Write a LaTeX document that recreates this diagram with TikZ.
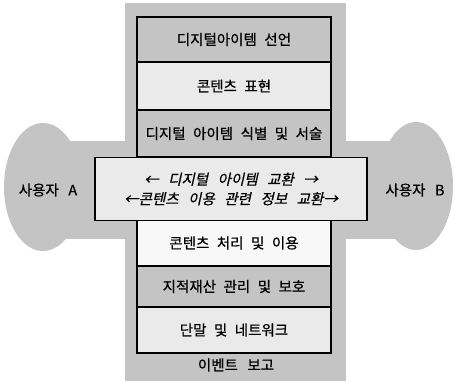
\documentclass[tikz,border=0pt]{standalone}
\usepackage{fontspec}
\setmainfont{Noto Sans CJK KR}
\newfontfamily\kr[FakeBold=0.6]{Noto Sans CJK KR}
\newfontfamily\krit[FakeSlant=0.22,FakeBold=0.6]{Noto Sans CJK KR}
\newcommand\gap{\hspace{7.5pt}}
\newcommand\wgap{\hspace{9.5pt}}
\definecolor{bgray}{HTML}{C4C4C4}
\definecolor{lgray}{HTML}{EAEAEA}
\definecolor{wgray}{HTML}{F8F8F8}
\begin{document}
\begin{tikzpicture}[x=1pt,y=-1pt,
  shade/.style={fill=bgray,draw=none},
  layer/.style={draw=black,line width=1.3pt,minimum width=194pt,inner sep=0pt,
    font=\kr\fontsize{14.5}{16}\selectfont,text=black},
  lab/.style={font=\kr\fontsize{14.5}{16}\selectfont,text=black,inner sep=0pt}]
\useasboundingbox (0,0) rectangle (455,381);
\fill[white] (0,0) rectangle (455,381);
% gray cross / cloud background
\fill[shade] (125,3) rectangle (346,381);
\fill[shade] (60,141) rectangle (126,239);
\fill[shade] (345,141) rectangle (400,239);
\fill[shade] (43,187) ellipse [x radius=39pt, y radius=64pt];
\fill[shade] (416,186) ellipse [x radius=37pt, y radius=64pt];
% layers
\node[layer,fill=bgray,minimum height=45pt] (b1) at (234,39.5) {디지털아이템\gap 선언};
\node[layer,fill=lgray,minimum height=48pt] (b2) at (234,86) {콘텐츠\gap 표현};
\node[layer,fill=bgray,minimum height=47pt] (b3) at (234,133.5) {디지털\gap 아이템\gap 식별\gap 및\gap 서술};
\node[layer,fill=wgray,minimum height=46pt] (b4) at (234,243) {콘텐츠\gap 처리\gap 및\gap 이용};
\node[layer,fill=bgray,minimum height=41pt] (b5) at (234,286.5) {지적재산\gap 관리\gap 및\gap 보호};
\node[layer,fill=lgray,minimum height=46pt] (b6) at (234,330) {단말\gap 및\gap 네트워크};
\node[draw=black,line width=1.3pt,fill=lgray,minimum width=272pt,minimum height=63pt,
  inner sep=0pt,align=center,font=\krit\fontsize{14.5}{19.5}\selectfont] (ex) at (231,189)
  {←\wgap 디지털\wgap 아이템\wgap 교환\wgap →\\←콘텐츠\wgap 이용\wgap 관련\wgap 정보\wgap 교환→};
\node[lab] (ev) at (236,365) {이벤트\wgap 보고};
\node[lab] (ua) at (48,190) {사용자\wgap A};
\node[lab] (ub) at (415,190) {사용자\wgap B};
\end{tikzpicture}
\end{document}
